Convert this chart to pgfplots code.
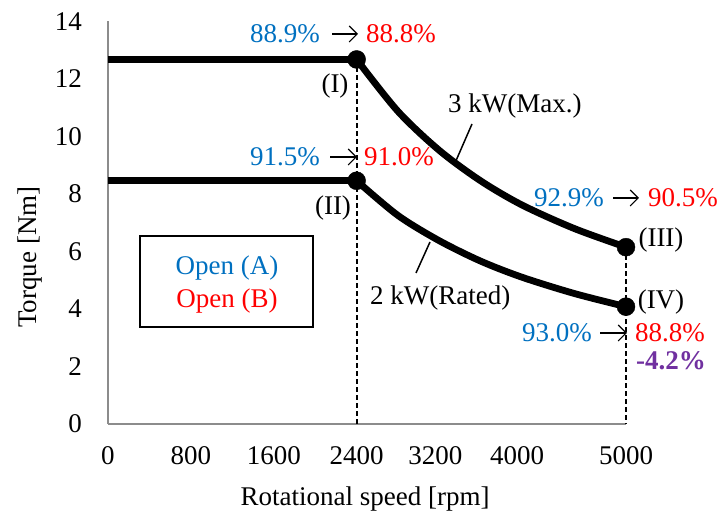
\documentclass[border=0pt]{standalone}
\usepackage{pgfplots}
\pgfplotsset{compat=1.18}
\usetikzlibrary{arrows.meta}
\usepackage{fontspec}
\setmainfont{Liberation Serif}
\definecolor{cblue}{HTML}{0070C0}
\definecolor{cred}{HTML}{FF0000}
\definecolor{cpurple}{HTML}{7030A0}
\newcommand{\bigf}{\rmfamily\fontsize{27}{32}\selectfont}
\begin{document}
\begin{tikzpicture}
\path[use as bounding box] (0,0) rectangle (724pt,518pt);
\begin{axis}[
  at={(108pt,94pt)}, anchor=south west,
  scale only axis, width=518pt, height=402.5pt,
  xmin=0, xmax=5000, ymin=0, ymax=14,
  axis x line*=bottom, axis y line*=left,
  axis line style={draw=black!45, line width=1.3pt, -},
  major tick length=0pt,
  xtick={0,800,1600,2400,3160,3950,5000},
  xticklabels={0,800,1600,2400,3200,4000,5000},
  ytick={0,2,4,6,8,10,12,14},
  ticklabel style={font=\bigf, inner sep=0pt},
  xticklabel style={anchor=base, yshift=-41pt},
  yticklabel style={anchor=east, xshift=-26pt},
  /pgf/number format/assume math mode=true,
  clip=false,
]
% dashed verticals
\addplot[black, line width=1.8pt, dash pattern=on 5pt off 3pt] coordinates {(2400,12.68) (2400,0)};
\addplot[black, line width=1.8pt, dash pattern=on 5pt off 3pt] coordinates {(5000,6.15) (5000,0)};
% 3 kW (Max.)
\addplot[black, line width=6.8pt] coordinates {(0,12.68) (2400,12.68)};
\addplot[black, line width=6.8pt, smooth] coordinates {(2400,12.68) (2800,10.87) (3200,9.51) (3600,8.45) (4000,7.61) (4500,6.80) (5000,6.15)};
% 2 kW (Rated)
\addplot[black, line width=6.8pt] coordinates {(0,8.46) (2400,8.46)};
\addplot[black, line width=6.8pt, smooth] coordinates {(2400,8.46) (2800,7.25) (3200,6.37) (3600,5.66) (4000,5.10) (4500,4.54) (5000,4.08)};
% operating points
\addplot[only marks, mark=*, mark size=9pt, black] coordinates {(2400,12.68) (2400,8.46) (5000,6.15) (5000,4.08)};
\end{axis}
\begin{scope}[x=1pt,y=-1pt,shift={(0pt,518pt)}, every node/.style={font=\bigf, inner sep=0pt},
  arr/.style={line width=1.1pt, -{Straight Barb[length=8pt, width=16pt, line width=1.1pt]}}]
% axis titles
\node[anchor=base] at (365,506) {Rotational speed [rpm]};
\node[anchor=base, rotate=90] at (37,257) {Torque [Nm]};
% point I
\node[anchor=base, text=cblue] at (285,43) {88.9\%};
\draw[arr] (332,34) -- (358,34);
\node[anchor=base, text=cred] at (401,43) {88.8\%};
\node at (335,86) {(I)};
% point II
\node[anchor=base, text=cblue] at (285,166) {91.5\%};
\draw[arr] (330,157) -- (357,157);
\node[anchor=base, text=cred] at (399,166) {91.0\%};
\node at (333,208) {(II)};
% curve labels
\node[anchor=base west] at (448,113) {3 kW(Max.)};
\draw[line width=1.5pt] (472,124) -- (455,163);
\node[anchor=base west] at (370,305) {2 kW(Rated)};
\draw[line width=1.5pt] (430,242) -- (416,273);
% point III
\node[anchor=base, text=cblue] at (569,207) {92.9\%};
\draw[arr] (613,198) -- (639,198);
\node[anchor=base, text=cred] at (683,207) {90.5\%};
\node at (661,240) {(III)};
% point IV
\node at (661,302) {(IV)};
\node[anchor=base, text=cblue] at (557,342) {93.0\%};
\draw[arr] (600,333) -- (627,333);
\node[anchor=base, text=cred] at (670,342) {88.8\%};
\node[anchor=base, text=cpurple, font=\bigf\bfseries] at (671,370) {-4.2\%};
% legend box
\draw[line width=2.2pt] (140,236) rectangle (313,327);
\node[anchor=base, text=cblue] at (227,275) {Open (A)};
\node[anchor=base, text=cred] at (227,308) {Open (B)};
\end{scope}
\end{tikzpicture}
\end{document}
